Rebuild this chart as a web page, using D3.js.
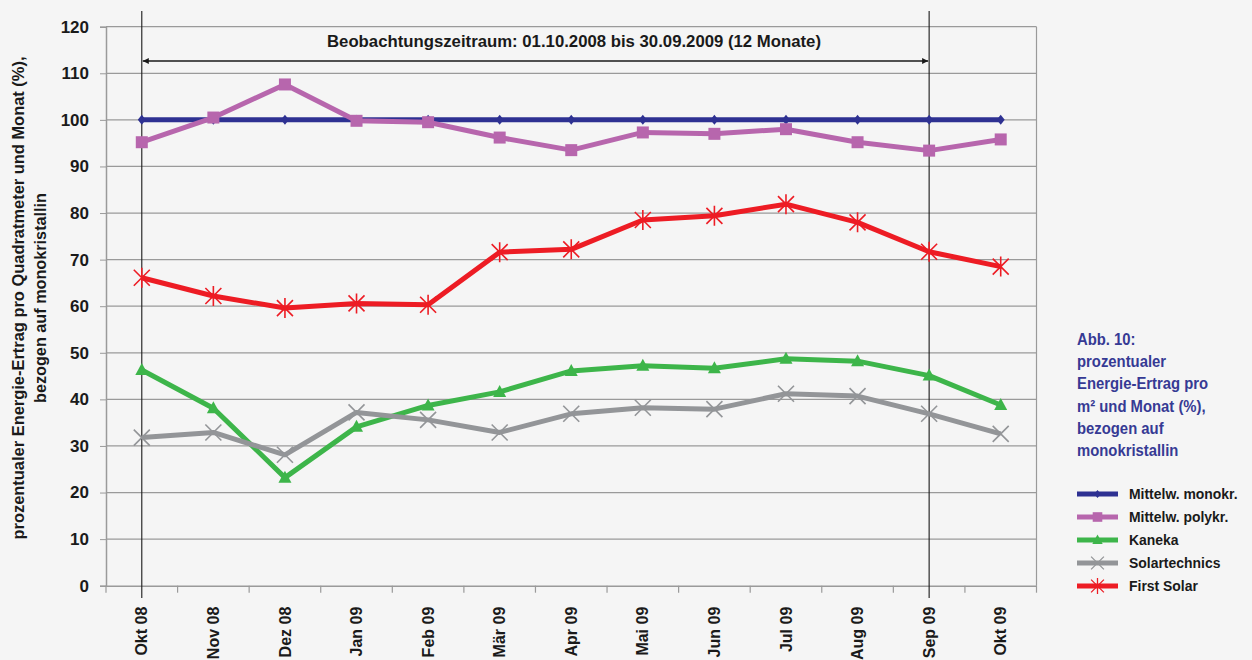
<!DOCTYPE html>
<html lang="de">
<head>
<meta charset="UTF-8">
<title>Abb. 10</title>
<script src="https://cdn.jsdelivr.net/npm/d3@7"></script>
<style>
  body { margin: 0; background: #f5f5f5; }
  svg { display: block; font-family: "Liberation Sans Narrow", "Arial Narrow", "Liberation Sans", sans-serif; }
</style>
</head>
<body>
<svg id="chart" width="1252" height="660"></svg>
<script>
// months on the x axis
let months = ["Okt 08","Nov 08","Dez 08","Jan 09","Feb 09","Mär 09","Apr 09","Mai 09","Jun 09","Jul 09","Aug 09","Sep 09","Okt 09"]

let mono  = [100,100,100,100,100,100,100,100,100,100,100,100,100]
let poly  = [95.2,100.5,107.6,99.8,99.5,96.2,93.5,97.3,97.0,98.0,95.2,93.4,95.8]
let kaneka = [46.3,38.1,23.2,34.1,38.7,41.6,46.1,47.2,46.7,48.7,48.2,45.1,38.8]
let solartechnics = [31.8,32.9,28.1,37.2,35.6,32.9,36.9,38.2,37.9,41.2,40.7,36.9,32.6]
let firstSolar = [66.1,62.2,59.6,60.6,60.3,71.6,72.2,78.5,79.4,81.9,78.0,71.7,68.5]

let yTicks = [0,10,20,30,40,50,60,70,80,90,100,110,120]

let seriesNames = ["Mittelw. monokr.","Mittelw. polykr.","Kaneka","Solartechnics","First Solar"]
let seriesColors = ["#2e3192","#b766ad","#3db54a","#939598","#ed1c24"]
let seriesMarkers = ["diamond","square","triangle","cross","star"]

let series = [mono, poly, kaneka, solartechnics, firstSolar].map((v,i) => ({
    name: seriesNames[i], values: v, color: seriesColors[i], marker: seriesMarkers[i]
}))

let svg = d3.select("#chart")
let mLeft = 106, mRight = 1036.5, mTop = 26.7, mBottom = 585.7

let x = d3.scaleBand().domain(months).range([mLeft, mRight])
let y = d3.scaleLinear().domain([0,120]).range([mBottom, mTop])
let cx = d => x(d) + x.bandwidth()/2

// grid
svg.append("g").selectAll("line").data(yTicks.slice(1)).join("line")
    .attr("x1", mLeft).attr("x2", mRight)
    .attr("y1", d => y(d)).attr("y2", d => y(d))
    .attr("stroke", "#9a9a9a").attr("stroke-width", 1.2)

svg.append("line").attr("x1", mRight).attr("x2", mRight).attr("y1", mTop).attr("y2", mBottom)
    .attr("stroke", "#9a9a9a").attr("stroke-width", 1.2)

// y axis
let yaxis = svg.append("g").attr("transform", `translate(${mLeft},0)`)
    .call(d3.axisLeft(y).tickValues(yTicks).tickSize(6).tickPadding(11))
yaxis.select(".domain").attr("stroke", "#9a9a9a").attr("stroke-width", 1.5)
yaxis.selectAll(".tick line").attr("stroke", "#9a9a9a")
yaxis.selectAll("text").attr("font-size", 17).attr("font-weight", "bold").attr("fill", "#1a1a1a")

// x axis, ticks sit between categories
let xaxis = svg.append("g").attr("transform", `translate(0,${mBottom})`)
    .call(d3.axisBottom(x).tickSize(0).tickPadding(0))
xaxis.select(".domain").attr("stroke", "#9a9a9a").attr("stroke-width", 1.5)
xaxis.selectAll(".tick text")
    .attr("transform", "translate(0,21) rotate(-90)")
    .attr("text-anchor", "end").attr("dy", "0.35em").attr("x", 0).attr("y", 0)
    .attr("font-size", 16).attr("font-weight", "bold").attr("fill", "#1a1a1a")
svg.append("g").selectAll("line").data(months.map(m => x(m)).concat([mRight])).join("line")
    .attr("x1", d => d).attr("x2", d => d)
    .attr("y1", mBottom).attr("y2", mBottom + 7)
    .attr("stroke", "#9a9a9a").attr("stroke-width", 1.2)

// observation period
let p0 = cx(months[0]), p1 = cx(months[11])
svg.selectAll(".vline").data([p0, p1]).join("line")
    .attr("x1", d => d).attr("x2", d => d).attr("y1", 11).attr("y2", 598)
    .attr("stroke", "#1a1a1a").attr("stroke-width", 1.1)

let defs = svg.append("defs")
defs.append("marker").attr("id", "ah").attr("viewBox", "0 0 10 10")
    .attr("refX", 10).attr("refY", 5).attr("markerWidth", 11).attr("markerHeight", 6)
    .attr("markerUnits", "userSpaceOnUse").attr("orient", "auto-start-reverse")
    .append("path").attr("d", "M0,0L10,5L0,10Z").attr("fill", "#1a1a1a")
svg.append("line").attr("x1", p0 + 1).attr("x2", p1 - 1).attr("y1", 61).attr("y2", 61)
    .attr("stroke", "#1a1a1a").attr("stroke-width", 1.4)
    .attr("marker-start", "url(#ah)").attr("marker-end", "url(#ah)")
svg.append("text").attr("x", 574).attr("y", 47).attr("text-anchor", "middle")
    .attr("font-size", 17).attr("font-weight", "bold").attr("fill", "#1a1a1a")
    .attr("textLength", 494).attr("lengthAdjust", "spacingAndGlyphs")
    .text("Beobachtungszeitraum: 01.10.2008 bis 30.09.2009 (12 Monate)")

// markers
function drawMarker(g, type, color) {
    if (type == "diamond") {
        g.append("path").attr("d", "M0,-5L4,0L0,5L-4,0Z").attr("fill", color)
    } else if (type == "square") {
        g.append("rect").attr("x", -6).attr("y", -6).attr("width", 12).attr("height", 12).attr("fill", color)
    } else if (type == "triangle") {
        g.append("path").attr("d", "M0,-7L6.5,5L-6.5,5Z").attr("fill", color)
    } else if (type == "cross") {
        g.append("path").attr("d", "M-8,-8L8,8M-8,8L8,-8").attr("stroke", color).attr("stroke-width", 1.6)
    } else {
        g.append("path").attr("d", "M-8,-8L8,8M-8,8L8,-8M0,-10L0,10").attr("stroke", color).attr("stroke-width", 1.6)
    }
}

let line = d3.line().x((d,i) => cx(months[i])).y(d => y(d))

series.forEach(s => {
    svg.append("path").datum(s.values).attr("d", line)
        .attr("fill", "none").attr("stroke", s.color).attr("stroke-width", 5)
        .attr("stroke-linejoin", "round")
    svg.append("g").selectAll("g").data(s.values).join("g")
        .attr("transform", (d,i) => `translate(${cx(months[i])},${y(d)})`)
        .each(function() { drawMarker(d3.select(this), s.marker, s.color) })
})

// y axis title
let ytitle = [["prozentualer Energie-Ertrag pro Quadratmeter und Monat (%),", 483], ["bezogen auf monokristallin", 210]]
svg.append("g").attr("transform", "translate(24,298) rotate(-90)")
    .selectAll("text").data(ytitle).join("text")
    .attr("x", 0).attr("y", (d,i) => i*22)
    .attr("text-anchor", "middle").attr("font-size", 17).attr("font-weight", "bold").attr("fill", "#1a1a1a")
    .attr("textLength", d => d[1]).attr("lengthAdjust", "spacingAndGlyphs")
    .text(d => d[0])

// caption
let caption = ["Abb. 10:","prozentualer","Energie-Ertrag pro","m² und Monat (%),","bezogen auf","monokristallin"]
svg.append("g").attr("transform", "translate(1077,0) scale(0.9,1)")
    .selectAll("text").data(caption).join("text")
    .attr("x", 0).attr("y", (d,i) => 345 + i*22.2)
    .attr("font-size", 16.5).attr("font-weight", "bold").attr("fill", "#363a94")
    .text(d => d)

// legend
let lg = svg.append("g").selectAll("g").data(series).join("g")
    .attr("transform", (d,i) => `translate(1077,${494 + i*23})`)
lg.append("line").attr("x1", 0).attr("x2", 41).attr("stroke", d => d.color).attr("stroke-width", 5)
lg.each(function(d) { drawMarker(d3.select(this).append("g").attr("transform", "translate(20.5,0) scale(0.8)"), d.marker, d.color) })
lg.append("text").attr("transform", "translate(52,0) scale(0.93,1)").attr("dy", "0.35em")
    .attr("font-size", 15).attr("font-weight", "bold").attr("fill", "#1a1a1a")
    .text(d => d.name)
</script>
</body>
</html>
